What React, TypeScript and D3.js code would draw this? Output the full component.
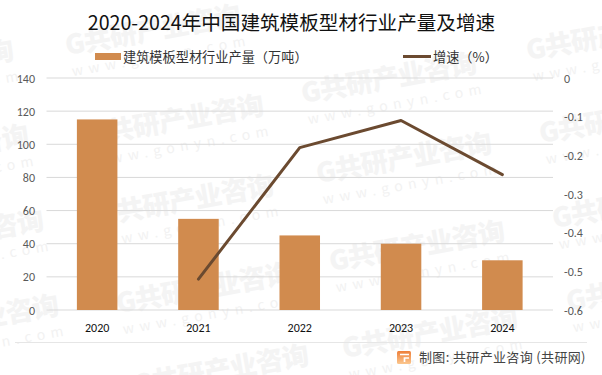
import React from "react";
import * as d3 from "d3";

const years = ["2020", "2021", "2022", "2023", "2024"];
const output = [115, 55, 45, 40, 30];
const growth: (number | null)[] = [null, -0.52, -0.18, -0.11, -0.25];
const leftTicks = [0, 20, 40, 60, 80, 100, 120, 140];
const rightTicks = [0, -0.1, -0.2, -0.3, -0.4, -0.5, -0.6];
const title = "2020-2024年中国建筑模板型材行业产量及增速";
const barName = "建筑模板型材行业产量（万吨）";
const lineName = "增速（%）";
const credit = "制图: 共研产业咨询 (共研网)";
const markStarts: [number, number][] = [
  [-160, 90], [67, 55], [303, 103], [528, 60], [-145, 175], [90, 145], [318, 183], [541, 143],
  [-130, 260], [100, 225], [331, 271], [554, 228], [-115, 345], [118, 313], [344, 358], [568, 311], [135, 395],
];

const W = 602, H = 375;
const font = "'Noto Sans CJK SC', 'Liberation Sans', sans-serif";
const latin = "Carlito, 'Liberation Sans', 'Noto Sans CJK SC', sans-serif";

export default function App() {
  const x = d3.scaleBand<string>().domain(years).range([46.5, 553]);
  const yL = d3.scaleLinear().domain([0, 140]).range([310, 78]);
  const yR = d3.scaleLinear().domain([-0.6, 0]).range([310, 78]);
  const cx = (y: string) => (x(y) as number) + x.bandwidth() / 2;
  const barW = x.bandwidth() * 0.4;
  const line = d3
    .line<number | null>()
    .defined((d) => d !== null)
    .x((_, i) => cx(years[i]))
    .y((d) => yR(d as number));

  return (
    <svg
      width={W}
      height={H}
      viewBox={`0 0 ${W} ${H}`}
      style={{ position: "absolute", left: 0, top: 0, background: "#fff", display: "block" }}
    >
      {markStarts.map(([mx, my], i) => (
        <g key={i} transform={`translate(${mx},${my}) rotate(-10)`} style={{ pointerEvents: "none" }}>
          <text x={0} y={0} fontFamily={font} fontSize={27} fontWeight={900} fill="#F4F4F4" textLength={178} lengthAdjust="spacing">
            G共研产业咨询
          </text>
          <text x={2} y={22} fontFamily={font} fontSize={14} fill="#F2F2F2" textLength={176} lengthAdjust="spacing">
            www.gonyn.com
          </text>
        </g>
      ))}

      <text x={291.5} y={30} textAnchor="middle" fontFamily={font} fontSize={19.6} fontWeight={400} fill="#111">
        {title}
      </text>

      <rect x={95} y={53} width={26} height={7} fill="#D18B4E" />
      <text x={123} y={61.5} fontFamily={font} fontSize={13.2} fill="#333">
        {barName}
      </text>
      <line x1={403} x2={431} y1={56.5} y2={56.5} stroke="#6B4A30" strokeWidth={3} />
      <text x={433} y={61.5} fontFamily={font} fontSize={13.2} fill="#333">
        {lineName}
      </text>

      {leftTicks.map((t) => (
        <g key={t}>
          <line x1={46.5} x2={553} y1={yL(t)} y2={yL(t)} stroke="#D9D9D9" strokeWidth={1} />
          <text x={35} y={yL(t) + 4.5} textAnchor="end" fontFamily={latin} fontSize={12} fill="#595959">
            {t}
          </text>
        </g>
      ))}
      {rightTicks.map((t) => (
        <text key={t} x={564} y={yR(t) + 4.5} fontFamily={latin} fontSize={12} fill="#595959">
          {t}
        </text>
      ))}

      {years.map((y, i) => (
        <g key={y}>
          <rect x={cx(y) - barW / 2} y={yL(output[i])} width={barW} height={310 - yL(output[i])} fill="#D18B4E" />
          <text x={cx(y)} y={332} textAnchor="middle" fontFamily={latin} fontSize={12} fill="#111">
            {y}
          </text>
        </g>
      ))}

      <path d={line(growth) as string} fill="none" stroke="#6B4A30" strokeWidth={3} strokeLinecap="round" strokeLinejoin="round" />

      <line x1={15} x2={587} y1={342.5} y2={342.5} stroke="#E6E6E6" />

      <defs>
        <linearGradient id="logo" x1="0" y1="0" x2="0" y2="1">
          <stop offset="0" stopColor="#EE7F3A" />
          <stop offset="1" stopColor="#FBC78E" />
        </linearGradient>
      </defs>
      <rect x={397} y={351} width={14} height={13} rx={1.5} fill="url(#logo)" />
      <path d="M400 354.5H409M409 358H404.5V362" fill="none" stroke="#fff" strokeWidth={1.7} />
      <text x={419} y={362} fontFamily={font} fontSize={13} fill="#444" letterSpacing={0.35}>
        {credit}
      </text>
    </svg>
  );
}
